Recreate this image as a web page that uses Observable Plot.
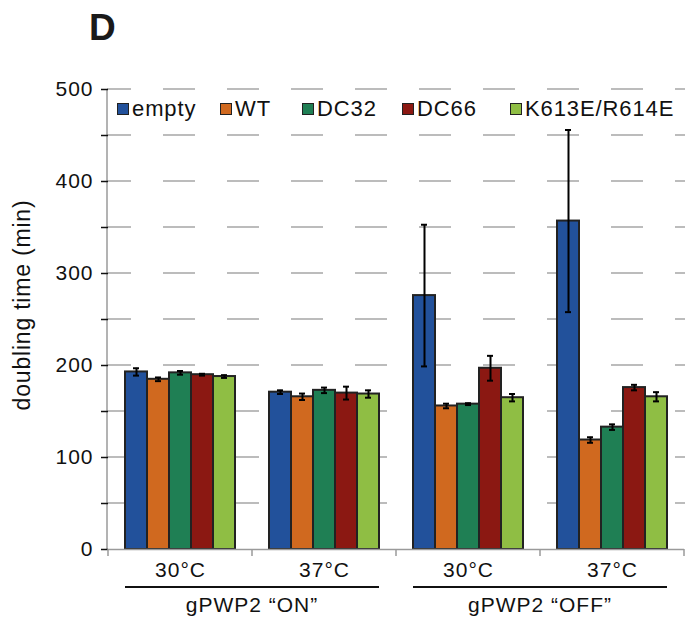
<!DOCTYPE html>
<html><head><meta charset="utf-8">
<script src="https://cdn.jsdelivr.net/npm/d3@7"></script>
<script src="https://cdn.jsdelivr.net/npm/@observablehq/plot@0.6"></script>
<style>
body{margin:0;background:#fff;font-family:"Liberation Sans",Arial,sans-serif;}
#wrap{position:relative;width:686px;height:618px;}
#title{position:absolute;left:89px;top:9px;font-weight:bold;font-size:37px;line-height:1;color:#1a1a1a;}
.leg{position:absolute;top:96px;display:flex;align-items:center;font-size:22px;letter-spacing:0.9px;color:#111;line-height:26px;}
.sw{width:10px;height:10px;border:1.5px solid #222;margin-right:3px;}
</style></head><body>
<div id="wrap"><div id="title">D</div></div>
<script>
// ---- data ----
const groups = ["ON30", "ON37", "OFF30", "OFF37"];
const groupLabels = ["30°C", "37°C", "30°C", "37°C"];
const conditions = ["gPWP2 “ON”", "gPWP2 “OFF”"];
const conditionGroups = [["ON30", "ON37"], ["OFF30", "OFF37"]];
const series = ["empty", "WT", "DC32", "DC66", "K613E/R614E"];
const colors = ["#22519b", "#d0691f", "#1f7f54", "#8b1812", "#8fbe44"];
const valuesON30 = [193, 185, 192, 190, 188];
const valuesON37 = [171, 166, 173, 170, 169];
const valuesOFF30 = [276, 156, 158, 197, 165];
const valuesOFF37 = [357, 119, 133, 176, 166];
const errorsON30 = [4, 2, 2, 1, 1.5];
const errorsON37 = [2, 3.5, 3, 7, 4];
const errorsOFF30 = [77, 2.5, 1, 13.5, 4];
const errorsOFF37 = [99, 3, 3, 3, 5];
const yTickValues = [0, 50, 100, 150, 200, 250, 300, 350, 400, 450, 500];
const yLabelValues = [0, 100, 200, 300, 400, 500];
const yTitle = "doubling time (min)";

const valueRows = [valuesON30, valuesON37, valuesOFF30, valuesOFF37];
const errorRows = [errorsON30, errorsON37, errorsOFF30, errorsOFF37];
const data = [];
groups.forEach((g, gi) => series.forEach((s, si) => data.push({
  group: g, series: s, value: valueRows[gi][si], err: errorRows[gi][si]
})));

const font = '"Liberation Sans", Arial, sans-serif';
const plot = Plot.plot({
  width: 686, height: 618,
  marginLeft: 107, marginRight: 1, marginTop: 89, marginBottom: 69,
  style: {fontFamily: font, fontSize: "21px", color: "#111", background: "#fff", letterSpacing: "1px", overflow: "visible"},
  fx: {domain: groups, padding: 0, label: null, axis: "bottom", tickSize: 0, tickPadding: 13,
       tickFormat: g => groupLabels[groups.indexOf(g)]},
  x: {domain: series, paddingInner: 0, paddingOuter: 0.71, axis: null},
  y: {domain: [0, 500], axis: "left", ticks: yTickValues, tickSize: 7, tickPadding: 8, label: null,
      tickFormat: d => yLabelValues.includes(d) ? String(d) : ""},
  color: {domain: series, range: colors},
  marks: [
    Plot.barY(data, {fx: "group", x: "series", y: "value", fill: "series", stroke: "#222", strokeWidth: 2}),
    Plot.ruleX(data, {fx: "group", x: "series", y1: d => d.value - d.err, y2: d => d.value + d.err, stroke: "#000", strokeWidth: 2}),
    Plot.tickY(data, {fx: "group", x: "series", y: d => d.value - d.err, insetLeft: 8, insetRight: 8, stroke: "#000", strokeWidth: 2}),
    Plot.tickY(data, {fx: "group", x: "series", y: d => d.value + d.err, insetLeft: 8, insetRight: 8, stroke: "#000", strokeWidth: 2}),
    Plot.ruleY([0], {stroke: "#9a9a9a", strokeWidth: 1.5})
  ]
});

d3.select(plot).selectAll("[aria-label='y-axis tick']").attr("stroke", "#9a9a9a").attr("stroke-width", 1.5);

document.getElementById("wrap").appendChild(plot);

const svg = d3.select(plot);
const yS = plot.scale("y"), fxS = plot.scale("fx"), xS = plot.scale("x");
const left = 107, right = 685;
const y0 = yS.apply(0);

// gridlines (behind everything)
const grid = svg.insert("g", ":first-child");
yTickValues.filter(v => v > 0).forEach(v => {
  grid.append("line").attr("x1", left).attr("x2", right).attr("y1", yS.apply(v)).attr("y2", yS.apply(v))
    .attr("stroke", "#a6a6a6").attr("stroke-width", 1.5).attr("stroke-dasharray", "32,32").attr("stroke-dashoffset", 8);
});
// y axis line
grid.append("line").attr("x1", left).attr("x2", left).attr("y1", yS.apply(500)).attr("y2", y0)
  .attr("stroke", "#9a9a9a").attr("stroke-width", 1.5);
// group boundary ticks
const bw = fxS.bandwidth;
const bounds = groups.map(g => fxS.apply(g)).concat([fxS.apply(groups[groups.length - 1]) + bw]);
bounds.forEach(b => svg.append("line").attr("x1", b).attr("x2", b).attr("y1", y0).attr("y2", y0 + 7)
  .attr("stroke", "#9a9a9a").attr("stroke-width", 1.5));
// condition lines and labels (bar positions from the fx and x scales)
const xbw = xS.bandwidth;
const xOff = s => xS.apply(s) - xS.range[0];
conditionGroups.forEach((cg, i) => {
  const x1 = fxS.apply(cg[0]) + xOff(series[0]);
  const x2 = fxS.apply(cg[cg.length - 1]) + xOff(series[series.length - 1]) + xbw;
  svg.append("line").attr("x1", x1).attr("x2", x2).attr("y1", 587).attr("y2", 587)
    .attr("stroke", "#111").attr("stroke-width", 2.2);
  svg.append("text").attr("x", (x1 + x2) / 2).attr("y", 612).attr("text-anchor", "middle")
    .attr("font-size", 21).attr("fill", "#111").text(conditions[i]);
});
// y title
svg.append("text").attr("transform", "translate(30,305) rotate(-90)").attr("text-anchor", "middle")
  .attr("font-size", 23).attr("letter-spacing", "0.8px").attr("fill", "#111").text(yTitle);

// legend
const legendX = [117, 220, 302, 402, 510];
series.forEach((s, i) => {
  const d = document.createElement("div");
  d.className = "leg";
  d.style.left = legendX[i] + "px";
  d.innerHTML = `<span class="sw" style="background:${colors[i]}"></span><span>${s}</span>`;
  document.getElementById("wrap").appendChild(d);
});
</script>
</body></html>
